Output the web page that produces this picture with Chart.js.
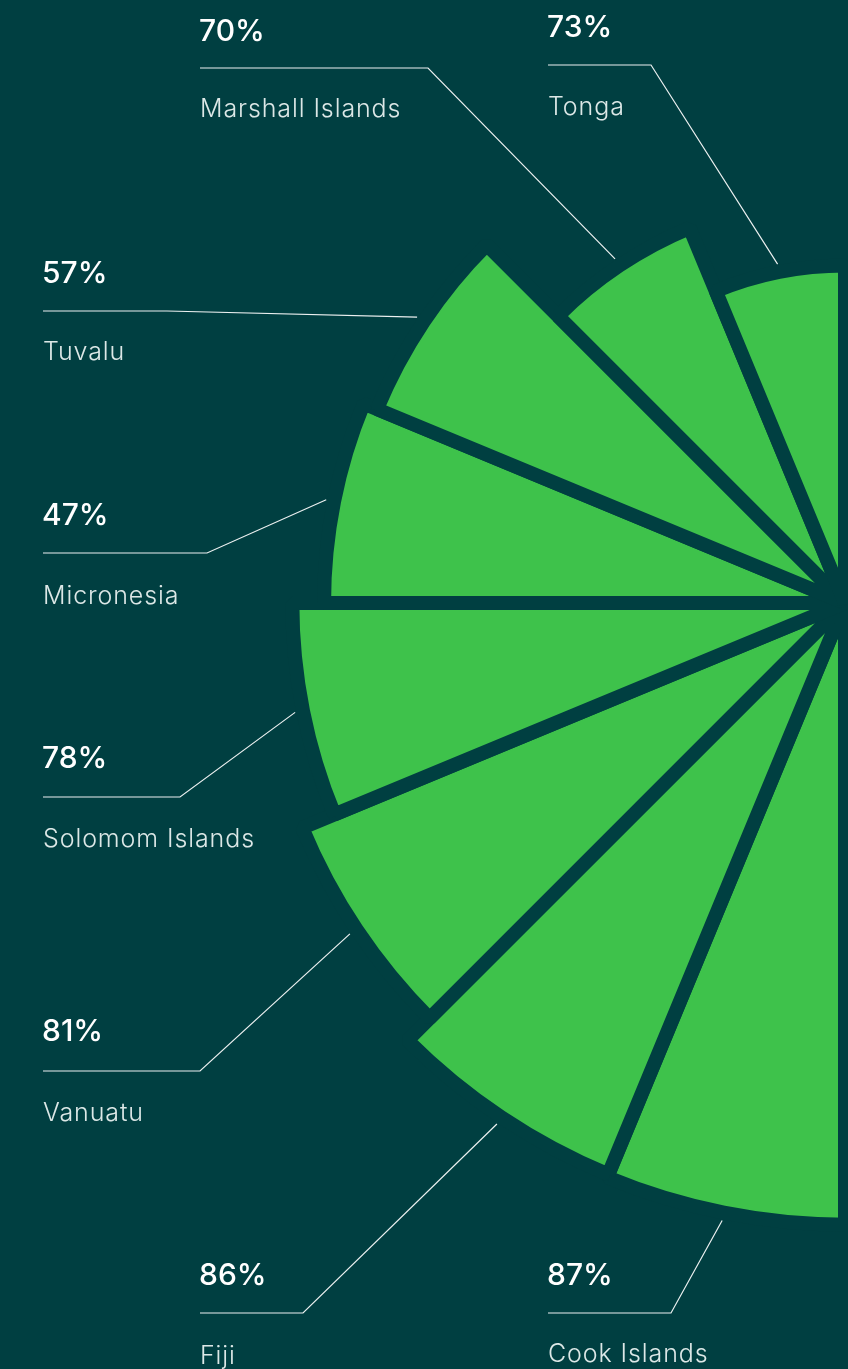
<!DOCTYPE html>
<html>
<head>
<meta charset="utf-8">
<script src="https://cdn.jsdelivr.net/npm/chart.js@4/dist/chart.umd.min.js"></script>
<style>
  html, body {
    margin: 0;
    width: 848px;
    height: 1369px;
    overflow: hidden;
    background: #003f41;
  }
  #wrap {
    position: absolute;
    left: 0;
    top: 0;
    width: 1690px;
    height: 1369px;
  }
</style>
</head>
<body>
<div id="wrap"><canvas id="rose"></canvas></div>
<script>
// Slices from the top of the half-rose down to the bottom
const countries = ["Tonga", "Marshall Islands", "Tuvalu", "Micronesia", "Solomom Islands", "Vanuatu", "Fiji", "Cook Islands"];
const shares = [73, 70, 57, 47, 78, 81, 86, 87];
// Length of each slice as drawn, relative to the longest slice (= 100)
const sliceLength = [54.3, 65.3, 81.5, 83.8, 88.9, 94.5, 99.5, 100];

const BG = "#003f41";
const GREEN = "#3ec24b";

// Where each caption sits (page pixels)
const captions = [
  { x: 548, pctY: 37, lineY: 65, bendX: 651, nameY: 115 },
  { x: 200, pctY: 41, lineY: 68, bendX: 428, nameY: 117 },
  { x: 43, pctY: 283, lineY: 311, bendX: 167, nameY: 360 },
  { x: 43, pctY: 525, lineY: 553, bendX: 207, nameY: 604 },
  { x: 43, pctY: 768, lineY: 797, bendX: 180, nameY: 847 },
  { x: 43, pctY: 1041, lineY: 1071, bendX: 200, nameY: 1121 },
  { x: 200, pctY: 1285, lineY: 1313, bendX: 303, nameY: 1364 },
  { x: 548, pctY: 1285, lineY: 1313, bendX: 671, nameY: 1362 }
];

// Half rose: draw from the bottom going clockwise, right half left empty
const n = countries.length;
const drawLabels = countries.slice().reverse().concat(new Array(n).fill(""));
const drawData = sliceLength.slice().reverse().concat(new Array(n).fill(0));

const captionPlugin = {
  id: "captions",
  afterDatasetsDraw(chart) {
    const ctx = chart.ctx;
    const meta = chart.getDatasetMeta(0);
    ctx.save();
    countries.forEach(function (name, i) {
      const c = captions[i];
      const arc = meta.data[n - 1 - i];
      const mid = (arc.startAngle + arc.endAngle) / 2;
      const reach = arc.outerRadius + 8;
      const ex = arc.x + Math.cos(mid) * reach;
      const ey = arc.y + Math.sin(mid) * reach;

      ctx.strokeStyle = "rgba(255,255,255,0.92)";
      ctx.lineWidth = 1.2;
      ctx.beginPath();
      ctx.moveTo(c.x, c.lineY);
      ctx.lineTo(c.bendX, c.lineY);
      ctx.lineTo(ex, ey);
      ctx.stroke();

      ctx.textAlign = "left";
      ctx.textBaseline = "alphabetic";
      ctx.fillStyle = "#ffffff";
      ctx.font = "500 30px Inter";
      ctx.letterSpacing = "0px";
      ctx.fillText(shares[i] + "%", c.x - 1, c.pctY);

      ctx.fillStyle = "#dce8e7";
      ctx.font = "300 25px Inter";
      ctx.letterSpacing = "0.9px";
      ctx.fillText(name, c.x, c.nameY);
    });
    ctx.restore();
  }
};

new Chart(document.getElementById("rose"), {
  type: "polarArea",
  data: {
    labels: drawLabels,
    datasets: [
      {
        data: drawData,
        backgroundColor: GREEN,
        borderColor: BG,
        borderWidth: 14
      }
    ]
  },
  options: {
    responsive: true,
    maintainAspectRatio: false,
    animation: false,
    layout: { padding: { bottom: 163 } },
    plugins: {
      legend: { display: false },
      tooltip: { enabled: false }
    },
    scales: {
      r: {
        display: false,
        min: 0,
        max: 97,
        startAngle: 180
      }
    }
  },
  plugins: [captionPlugin]
});
</script>
</body>
</html>
